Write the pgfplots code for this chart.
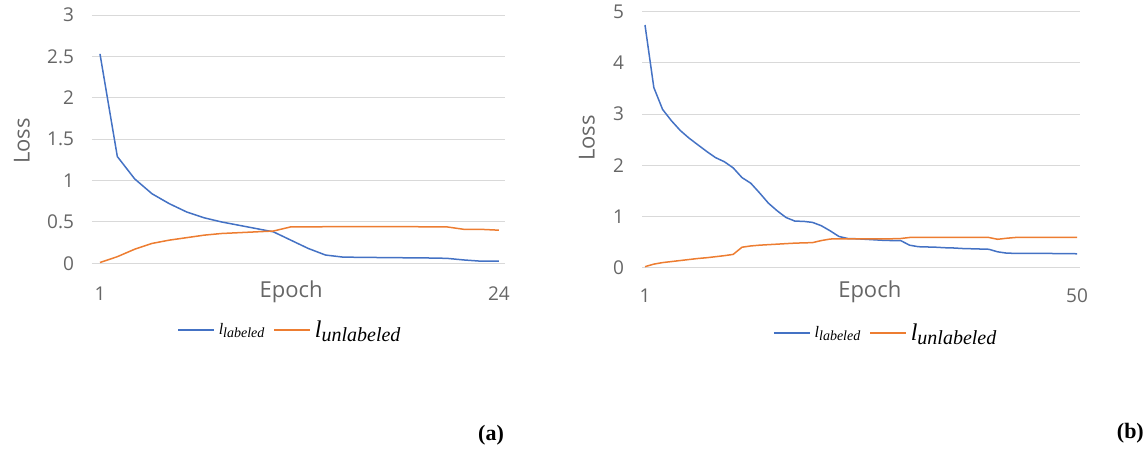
\documentclass[border=0pt]{standalone}
\usepackage{fontspec}
\setmainfont{Open Sans}
\newfontfamily\serifb{Liberation Serif}
\usepackage{pgfplots}
\pgfplotsset{compat=1.18}
\definecolor{xlblue}{HTML}{4472C4}
\definecolor{xlorange}{HTML}{ED7D31}
\definecolor{gridc}{HTML}{D9D9D9}
\definecolor{txt}{HTML}{666666}

\pgfplotsset{excel/.style={
  scale only axis,
  axis line style={draw=none},
  tick style={draw=none},
  ymajorgrids,
  grid style={gridc, line width=1pt},
  ymin=0,
  /pgf/number format/assume math mode=true,
  tick label style={font=\fontsize{19}{22}\selectfont, text=txt},
  yticklabel style={xshift=-14.5pt},
  label style={font=\fontsize{22}{26}\selectfont, text=txt},
  every axis plot/.append style={line width=1.5pt, no marks},
  legend columns=2,
  legend image code/.code={\draw[##1, line width=1.5pt] (0pt,0pt) -- (36pt,0pt);},
  legend style={draw=none, fill=none, inner sep=0pt, nodes={inner sep=1pt},
    column sep=3pt,
    /tikz/every even column/.append style={column sep=8pt}},
}}

\begin{document}
\begin{tikzpicture}
\path[use as bounding box] (0,0) rectangle (1145pt,451pt);

% ---------------- (a) ----------------
\begin{axis}[excel,
  at={(92pt,187.7pt)}, anchor=south west,
  width=413pt, height=248.3pt,
  xmin=0.54, xmax=24.35, ymax=3,
  ytick={0,0.5,1,1.5,2,2.5,3},
  xtick={1,24},
  xticklabel style={anchor=base, yshift=-37pt},
  xlabel={Epoch},
  xlabel style={at={(axis description cs:0.482,0)}, anchor=base, yshift=-34.4pt},
  ylabel={Loss},
  ylabel style={at={(axis description cs:-0.1695,0.4925)}, anchor=center},
  legend style={at={(axis description cs:0.206,-0.2686)}, anchor=west},
]
\addplot[xlblue] coordinates {
(1,2.53)(2,1.29)(3,1.02)(4,0.84)(5,0.72)(6,0.62)(7,0.55)(8,0.50)(9,0.46)(10,0.42)
(11,0.38)(12,0.28)(13,0.18)(14,0.10)(15,0.075)(16,0.072)(17,0.07)(18,0.068)(19,0.066)
(20,0.064)(21,0.06)(22,0.04)(23,0.025)(24,0.025)};
\addlegendentry{\serifb\itshape\fontsize{16}{18}\selectfont l\raisebox{-3pt}{\fontsize{14}{16}\selectfont labeled}}
\addplot[xlorange] coordinates {
(1,0.01)(2,0.08)(3,0.17)(4,0.24)(5,0.28)(6,0.31)(7,0.34)(8,0.36)(9,0.37)(10,0.38)
(11,0.39)(12,0.44)(13,0.44)(14,0.442)(15,0.443)(16,0.443)(17,0.442)(18,0.442)(19,0.442)
(20,0.441)(21,0.44)(22,0.41)(23,0.41)(24,0.40)};
\addlegendentry{\serifb\itshape\fontsize{24}{28}\selectfont l\raisebox{-4pt}{\fontsize{20}{24}\selectfont unlabeled}}
\end{axis}

% ---------------- (b) ----------------
\begin{axis}[excel,
  at={(642pt,183.3pt)}, anchor=south west,
  width=438pt, height=256pt,
  xmin=0.66, xmax=50.34, ymax=5,
  ytick={0,1,2,3,4,5},
  xtick={1,50},
  xticklabel style={anchor=base, yshift=-35pt},
  xlabel={Epoch},
  xlabel style={at={(axis description cs:0.52,0)}, anchor=base, yshift=-30pt},
  ylabel={Loss},
  ylabel style={at={(axis description cs:-0.1256,0.507)}, anchor=center},
  legend style={at={(axis description cs:0.299,-0.255)}, anchor=west},
]
\addplot[xlblue] coordinates {
(1,4.74)(2,3.52)(3,3.09)(4,2.87)(5,2.68)(6,2.53)(7,2.40)(8,2.27)(9,2.15)(10,2.07)
(11,1.95)(12,1.76)(13,1.65)(14,1.46)(15,1.26)(16,1.11)(17,0.98)(18,0.91)(19,0.905)(20,0.885)
(21,0.82)(22,0.72)(23,0.61)(24,0.57)(25,0.565)(26,0.555)(27,0.545)(28,0.535)(29,0.53)(30,0.53)
(31,0.44)(32,0.41)(33,0.405)(34,0.40)(35,0.39)(36,0.385)(37,0.375)(38,0.37)(39,0.365)(40,0.36)
(41,0.31)(42,0.285)(43,0.28)(44,0.28)(45,0.28)(46,0.28)(47,0.278)(48,0.275)(49,0.275)(50,0.272)};
\addlegendentry{\serifb\itshape\fontsize{16}{18}\selectfont l\raisebox{-3pt}{\fontsize{14}{16}\selectfont labeled}}
\addplot[xlorange] coordinates {
(1,0.02)(2,0.07)(3,0.10)(4,0.12)(5,0.14)(6,0.16)(7,0.18)(8,0.195)(9,0.215)(10,0.235)
(11,0.26)(12,0.40)(13,0.425)(14,0.44)(15,0.45)(16,0.46)(17,0.47)(18,0.48)(19,0.485)(20,0.49)
(21,0.53)(22,0.56)(23,0.565)(24,0.565)(25,0.565)(26,0.565)(27,0.565)(28,0.565)(29,0.565)(30,0.57)
(31,0.59)(32,0.59)(33,0.59)(34,0.59)(35,0.59)(36,0.59)(37,0.59)(38,0.59)(39,0.59)(40,0.59)
(41,0.555)(42,0.575)(43,0.59)(44,0.59)(45,0.59)(46,0.59)(47,0.59)(48,0.59)(49,0.59)(50,0.59)};
\addlegendentry{\serifb\itshape\fontsize{24}{28}\selectfont l\raisebox{-4pt}{\fontsize{20}{24}\selectfont unlabeled}}
\end{axis}

\node[font=\serifb\bfseries\fontsize{22}{26}\selectfont] at (491pt,16pt) {(a)};
\node[font=\serifb\bfseries\fontsize{22}{26}\selectfont, anchor=east, inner sep=0pt] at (1144pt,18pt) {(b)};
\end{tikzpicture}
\end{document}
